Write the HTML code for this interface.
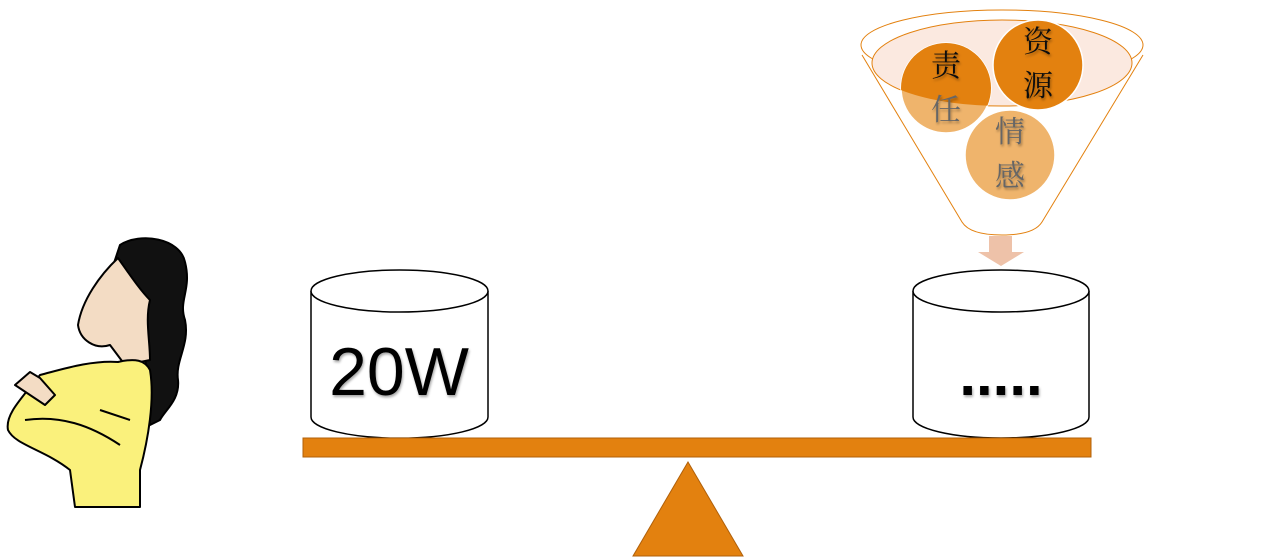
<!DOCTYPE html>
<html><head><meta charset="utf-8"><style>html,body{margin:0;padding:0;background:#fff}svg{display:block}</style></head>
<body>
<svg width="1276" height="557" viewBox="0 0 1276 557" xmlns="http://www.w3.org/2000/svg">
<defs><filter id="sh"><feDropShadow dx="1" dy="2" stdDeviation="1.2" flood-color="#000" flood-opacity="0.35"/></filter></defs>
<!-- funnel -->
<path d="M862,55 L962,222 Q970,235 1002,235 Q1034,235 1042,222 L1143,55" fill="#fff" stroke="#E3810F" stroke-width="1"/>
<ellipse cx="1002" cy="45" rx="141" ry="35" fill="#fff" stroke="#E3810F" stroke-width="1"/>
<ellipse cx="1002" cy="63" rx="130" ry="43" fill="#FBE9E0" stroke="#E3810F" stroke-width="1"/>
<circle cx="1010" cy="155" r="45" fill="#EFB46C" stroke="#fff" stroke-width="1.5"/>
<circle cx="946" cy="88" r="45" fill="#EFB46C" stroke="#fff" stroke-width="1.5"/>
<clipPath id="ce"><ellipse cx="1002" cy="63" rx="130" ry="43"/></clipPath>
<circle cx="946" cy="88" r="45" fill="#E3810F" clip-path="url(#ce)"/>
<circle cx="1038" cy="65" r="45" fill="#E3810F" stroke="#fff" stroke-width="1.5"/>
<g font-family="'Liberation Serif','Noto Serif CJK SC',serif" font-size="30" text-anchor="middle" filter="url(#sh)">
<text x="946" y="76" fill="#111">责</text>
<text x="946" y="120" fill="#666">任</text>
<text x="1038" y="52" fill="#111">资</text>
<text x="1038" y="96" fill="#111">源</text>
<text x="1010" y="142" fill="#666">情</text>
<text x="1010" y="186" fill="#666">感</text>
</g>
<path d="M989,236 H1012 V252 H1024 L1001,266 L978,252 H989 Z" fill="#EEC2A9"/>
<!-- cylinders -->
<g fill="#fff" stroke="#000" stroke-width="1.5">
<path d="M311,291 V417 A88,21 0 0 0 488,417 V291"/>
<ellipse cx="399.5" cy="291" rx="88.5" ry="21"/>
<path d="M913,291 V417 A88,21 0 0 0 1089,417 V291"/>
<ellipse cx="1001" cy="291" rx="88" ry="21"/>
</g>
<g font-family="'Liberation Sans','DejaVu Sans',sans-serif" text-anchor="middle" filter="url(#sh)">
<text x="399" y="395" font-size="68">20W</text>
<text x="1001" y="395" font-size="60" font-weight="bold">.....</text>
</g>
<!-- beam & fulcrum -->
<rect x="303" y="438" width="788" height="19" fill="#E3810F" stroke="#B0600A" stroke-width="1"/>
<path d="M688,462 L743,556 L633,556 Z" fill="#E3810F" stroke="#B0600A" stroke-width="1"/>
<!-- character -->
<g stroke="#000" stroke-width="2" stroke-linejoin="round">
<path d="M120,245 C140,232 180,238 185,262 C192,290 178,300 185,320 C190,345 175,360 178,380 C180,400 165,410 160,420 L150,425 C145,395 150,360 140,340 C130,320 120,300 110,275 Z" fill="#111"/>
<path d="M118,258 C100,275 82,300 78,325 C80,340 95,350 110,345 L125,365 L150,360 C150,340 145,320 150,300 C140,290 130,275 118,258 Z" fill="#F3DCC4"/>
<path d="M40,375 C60,370 90,360 118,362 C135,358 145,360 150,370 C155,400 148,440 140,470 L140,507 L75,507 L70,470 C45,450 15,445 8,430 C5,415 20,400 40,375 Z" fill="#FAF17C"/>
<path d="M15,385 L30,372 L40,378 L55,395 L45,405 Z" fill="#F3DCC4"/>
<path d="M25,420 C60,415 90,425 120,445 M100,410 L130,420" fill="none"/>
</g>
</svg>
</body></html>
